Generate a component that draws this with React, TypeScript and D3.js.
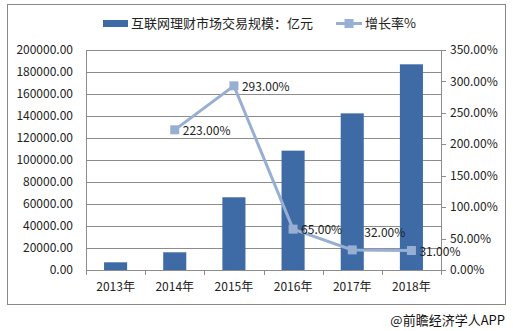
import React from "react";
import * as d3 from "d3";

const categories = ["2013年", "2014年", "2015年", "2016年", "2017年", "2018年"];
const marketSize = [7000, 16100, 66100, 108500, 142400, 187000];
const growthYears = ["2014年", "2015年", "2016年", "2017年", "2018年"];
const growthRate = [223, 293, 65, 32, 31];
const leftTicks = [0, 20000, 40000, 60000, 80000, 100000, 120000, 140000, 160000, 180000, 200000];
const rightTicks = [0, 50, 100, 150, 200, 250, 300, 350];
const barLegend = "互联网理财市场交易规模：亿元";
const lineLegend = "增长率%";
const source = "@前瞻经济学人APP";

const W = 513, H = 331;
const m = { left: 86, right: 441, top: 50, bottom: 270 };
const font = "'Noto Sans CJK SC', 'Noto Sans', sans-serif";
const barColor = "#3E6BA6";
const lineColor = "#97AFD2";
const gridColor = "#8C8C8C";
const textColor = "#222";

export default function App() {
  const x = d3.scaleBand<string>().domain(categories).range([m.left, m.right]).paddingInner(0).paddingOuter(0);
  const yL = d3.scaleLinear().domain([0, 200000]).range([m.bottom, m.top]);
  const yR = d3.scaleLinear().domain([0, 350]).range([m.bottom, m.top]);
  const bw = x.bandwidth() * 0.39;
  const cx = (c: string) => (x(c) as number) + x.bandwidth() / 2;
  const pts: [number, number][] = growthYears.map((c, i) => [cx(c), yR(growthRate[i])]);
  const line = d3.line()(pts) as string;
  const labelOffsets: [number, number][] = [[8, 5], [8, 5], [8, 5], [12, -13], [8, 5]];

  return (
    <svg width={W} height={H} style={{ position: "absolute", left: 0, top: 0, background: "#fff" }}>
      <rect x={7.5} y={4.5} width={498} height={300} fill="#fff" stroke="#888" strokeWidth={1} />
      {leftTicks.slice(1).map((t) => (
        <line key={t} x1={m.left} x2={m.right} y1={Math.round(yL(t)) + 0.5} y2={Math.round(yL(t)) + 0.5} stroke={gridColor} strokeWidth={1} />
      ))}
      {leftTicks.map((t) => (
        <text key={"l" + t} x={73} y={yL(t)} dy="0.35em" textAnchor="end" fontSize={12} fontFamily={font} fill={textColor}>
          {d3.format(".2f")(t)}
        </text>
      ))}
      {rightTicks.map((t) => (
        <g key={"r" + t}>
          <line x1={m.right} x2={m.right + 5} y1={Math.round(yR(t)) + 0.5} y2={Math.round(yR(t)) + 0.5} stroke={gridColor} />
          <text x={450} y={yR(t)} dy="0.35em" textAnchor="start" fontSize={12} fontFamily={font} fill={textColor}>
            {d3.format(".2f")(t) + "%"}
          </text>
        </g>
      ))}
      {categories.map((c, i) => (
        <rect key={c} x={cx(c) - bw / 2} y={yL(marketSize[i])} width={bw} height={m.bottom - yL(marketSize[i])} fill={barColor} />
      ))}
      <line x1={m.left + 0.5} x2={m.left + 0.5} y1={m.top} y2={m.bottom} stroke={gridColor} />
      <line x1={m.right + 0.5} x2={m.right + 0.5} y1={m.top} y2={m.bottom} stroke={gridColor} />
      <line x1={m.left} x2={m.right} y1={m.bottom + 0.5} y2={m.bottom + 0.5} stroke={gridColor} />
      {d3.range(categories.length + 1).map((i) => {
        const xx = Math.round(m.left + i * x.bandwidth()) + 0.5;
        return <line key={"xt" + i} x1={xx} x2={xx} y1={m.bottom} y2={m.bottom + 5} stroke={gridColor} />;
      })}
      {categories.map((c) => (
        <text key={"x" + c} x={cx(c)} y={287} dy="0.35em" textAnchor="middle" fontSize={12} fontFamily={font} fill={textColor}>
          {c}
        </text>
      ))}
      <path d={line} fill="none" stroke={lineColor} strokeWidth={3} />
      {pts.map((p, i) => (
        <rect key={"m" + i} x={p[0] - 4.5} y={p[1] - 4.5} width={9} height={9} fill={lineColor} />
      ))}
      {pts.map((p, i) => (
        <text key={"lb" + i} x={p[0] + labelOffsets[i][0]} y={p[1] + labelOffsets[i][1]} fontSize={12} fontFamily={font} fill={textColor}>
          {d3.format(".2f")(growthRate[i]) + "%"}
        </text>
      ))}
      <rect x={103} y={20} width={25} height={7} fill={barColor} />
      <text x={131} y={23.5} dy="0.35em" fontSize={13} fontFamily={font} fill={textColor}>{barLegend}</text>
      <line x1={336} x2={362} y1={23.5} y2={23.5} stroke={lineColor} strokeWidth={3} />
      <rect x={344.5} y={19} width={9} height={9} fill={lineColor} />
      <text x={365} y={23.5} dy="0.35em" fontSize={13} fontFamily={font} fill={textColor}>{lineLegend}</text>
      <text x={505} y={320} dy="0.35em" textAnchor="end" fontSize={13} fontFamily={font} fill="#111">{source}</text>
    </svg>
  );
}
